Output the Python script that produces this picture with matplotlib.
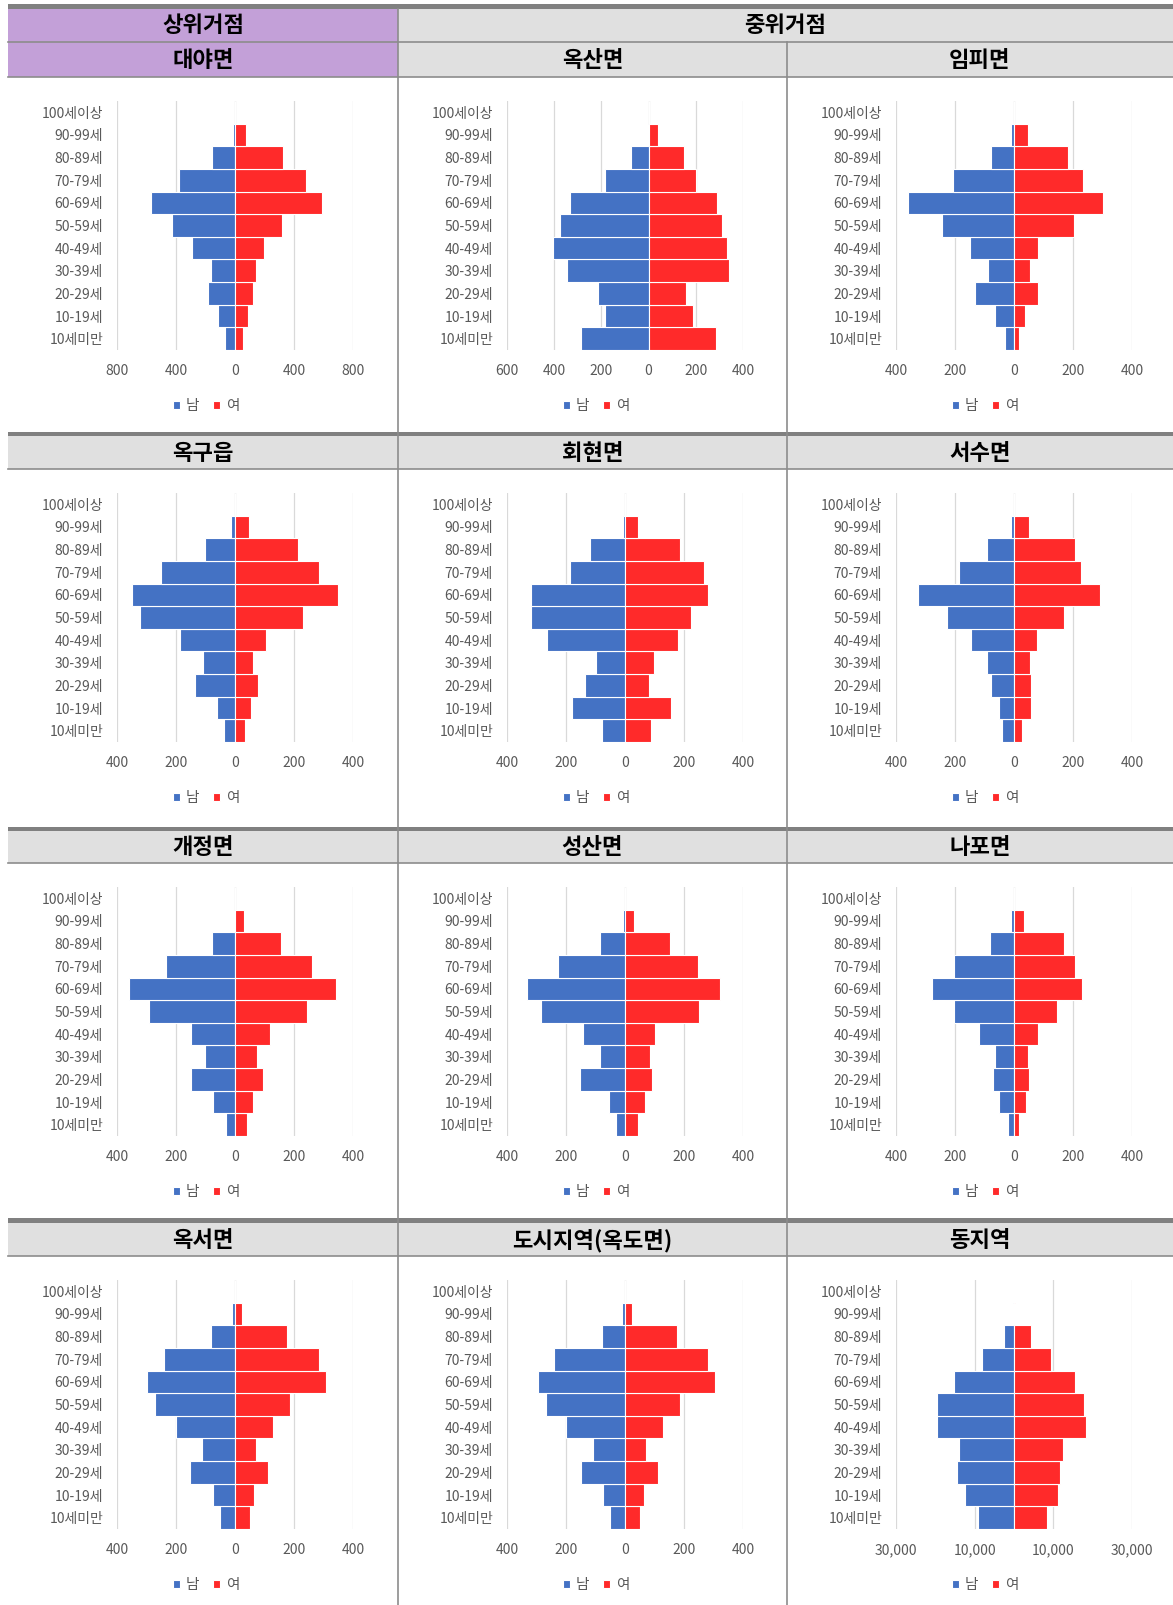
import matplotlib
matplotlib.use('Agg')
import matplotlib.pyplot as plt
from matplotlib.patches import Rectangle
from matplotlib.ticker import FuncFormatter

plt.rcParams['font.family'] = ['Noto Sans CJK KR', 'DejaVu Sans']

# age groups, bottom to top
ages = ['10세미만', '10-19세', '20-29세', '30-39세', '40-49세', '50-59세',
        '60-69세', '70-79세', '80-89세', '90-99세', '100세이상']

regions = ['대야면', '옥산면', '임피면',
           '옥구읍', '회현면', '서수면',
           '개정면', '성산면', '나포면',
           '옥서면', '도시지역(옥도면)', '동지역']

daeya_m = [68, 117, 181, 163, 293, 427, 567, 381, 153, 13, 0]
daeya_f = [54, 88, 122, 140, 194, 318, 589, 483, 325, 72, 0]
oksan_m = [285, 186, 214, 345, 406, 377, 334, 186, 76, 3, 0]
oksan_f = [285, 190, 158, 341, 334, 310, 289, 201, 148, 38, 0]
impi_m = [32, 64, 131, 87, 149, 244, 361, 208, 78, 11, 0]
impi_f = [18, 38, 82, 53, 82, 202, 303, 233, 184, 46, 0]
okgu_m = [37, 60, 137, 107, 185, 321, 348, 251, 102, 15, 0]
okgu_f = [35, 53, 79, 61, 106, 231, 349, 284, 213, 47, 0]
hoehyeon_m = [77, 180, 136, 99, 263, 319, 319, 188, 119, 8, 0]
hoehyeon_f = [87, 156, 82, 99, 180, 224, 280, 267, 188, 44, 0]
seosu_m = [41, 50, 79, 90, 145, 227, 327, 185, 90, 11, 0]
seosu_f = [28, 56, 56, 54, 77, 170, 293, 227, 207, 50, 0]
gaejeong_m = [31, 75, 149, 101, 149, 290, 359, 233, 79, 5, 0]
gaejeong_f = [40, 60, 96, 73, 118, 245, 342, 262, 157, 31, 0]
seongsan_m = [29, 55, 151, 85, 144, 284, 332, 226, 85, 6, 0]
seongsan_f = [45, 67, 93, 85, 102, 252, 322, 246, 154, 32, 0]
napo_m = [19, 50, 71, 66, 119, 204, 279, 204, 80, 9, 0]
napo_f = [16, 39, 50, 46, 82, 147, 231, 208, 170, 33, 0]
okseo_m = [51, 76, 152, 113, 201, 272, 298, 241, 81, 11, 0]
okseo_f = [50, 63, 111, 70, 130, 186, 307, 284, 177, 23, 0]
okdo_m = [50, 75, 150, 110, 199, 269, 295, 240, 79, 10, 0]
okdo_f = [51, 63, 113, 72, 130, 186, 306, 281, 177, 24, 0]
dong_m = [9040, 12540, 14560, 13860, 19650, 19650, 15200, 8070, 2600, 150, 0]
dong_f = [8420, 11300, 11750, 12370, 18250, 17800, 15400, 9300, 4200, 300, 0]

male = [daeya_m, oksan_m, impi_m, okgu_m, hoehyeon_m, seosu_m,
        gaejeong_m, seongsan_m, napo_m, okseo_m, okdo_m, dong_m]
female = [daeya_f, oksan_f, impi_f, okgu_f, hoehyeon_f, seosu_f,
          gaejeong_f, seongsan_f, napo_f, okseo_f, okdo_f, dong_f]

ticks_400 = [-400, -200, 0, 200, 400]
x_ticks = [[-800, -400, 0, 400, 800], [-600, -400, -200, 0, 200, 400], ticks_400,
           ticks_400, ticks_400, ticks_400,
           ticks_400, ticks_400, ticks_400,
           ticks_400, ticks_400, [-30000, -10000, 10000, 30000]]

BLUE = '#4472C4'
RED = '#FF2A2A'
PURPLE = '#C3A0D8'
HEAD = '#E0E0E0'
DARK = '#808080'
LINE = '#8C8C8C'
GREY_TXT = '#595959'

W, H = 1173, 1605
fig = plt.figure(figsize=(W / 100, H / 100), dpi=100)

# table drawn in pixel coordinates on a background axes
bg = fig.add_axes([0, 0, 1, 1])
bg.set_xlim(0, W)
bg.set_ylim(H, 0)
bg.axis('off')


def box(x0, y0, x1, y1, color):
    bg.add_patch(Rectangle((x0, y0), x1 - x0, y1 - y0, facecolor=color, edgecolor='none'))


col_x = [8, 398, 787, 1173]
hdr_top = [42, 436, 831, 1223]
hdr_bot = [77, 469, 863, 1256]
thick = [(4, 9), (432, 436), (827, 831), (1218, 1223)]

# header cells
box(8, 9, 398, 77, PURPLE)
box(398, 9, W, 77, HEAD)
for t, b in zip(hdr_top[1:], hdr_bot[1:]):
    box(8, t, W, b, HEAD)

# thin lines
bg.plot([8, W], [42, 42], color=LINE, lw=1.2)
for b in hdr_bot:
    bg.plot([8, W], [b, b], color=LINE, lw=1.2)
bg.plot([398, 398], [9, H], color=LINE, lw=1.2)
bg.plot([787, 787], [42, H], color=LINE, lw=1.2)

for y0, y1 in thick:
    box(8, y0, W, y1, DARK)

hfont = dict(fontsize=16, fontweight='bold', color='black', ha='center', va='center')
bg.text(203, 26, '상위거점', **hfont)
bg.text((398 + W) / 2, 26, '중위거점', **hfont)

for i, name in enumerate(regions):
    r, c = divmod(i, 3)
    cx = (col_x[c] + col_x[c + 1]) / 2
    bg.text(cx, (hdr_top[r] + hdr_bot[r]) / 2 + 1, name, **hfont)

    left = col_x[c] + 109
    top = hdr_bot[r] + 24
    w, h = 236, 249
    ax = fig.add_axes([left / W, 1 - (top + h) / H, w / W, h / H])
    ax.set_facecolor('none')

    y = list(range(len(ages)))
    bm = ax.barh(y, [-v for v in male[i]], height=1.0, color=BLUE,
                 edgecolor='white', linewidth=0.8, label='남')
    bf = ax.barh(y, female[i], height=1.0, color=RED,
                 edgecolor='white', linewidth=0.8, label='여')

    xt = x_ticks[i]
    ax.set_xlim(xt[0], xt[-1])
    ax.set_ylim(-0.5, len(ages) - 0.5)
    ax.set_xticks(xt)
    ax.xaxis.set_major_formatter(FuncFormatter(lambda v, p: f'{abs(v):,.0f}'))
    ax.set_yticks(y)
    ax.set_yticklabels(ages)
    ax.grid(axis='x', color='#D9D9D9', lw=0.9)
    ax.set_axisbelow(True)
    for s in ax.spines.values():
        s.set_visible(False)
    ax.tick_params(axis='both', length=0, labelsize=10, labelcolor=GREY_TXT)
    ax.tick_params(axis='y', pad=10)
    ax.tick_params(axis='x', pad=10)

    lx = col_x[c] + 198
    ly = hdr_bot[r] + 329
    ax.legend(handles=[bm, bf], loc='center', ncol=2, frameon=False,
              bbox_to_anchor=(lx / W, 1 - ly / H), bbox_transform=fig.transFigure,
              fontsize=10.5, labelcolor=GREY_TXT, handlelength=0.5, handleheight=0.5,
              handletextpad=0.4, columnspacing=0.9)

fig.savefig('out.png', dpi=100)
